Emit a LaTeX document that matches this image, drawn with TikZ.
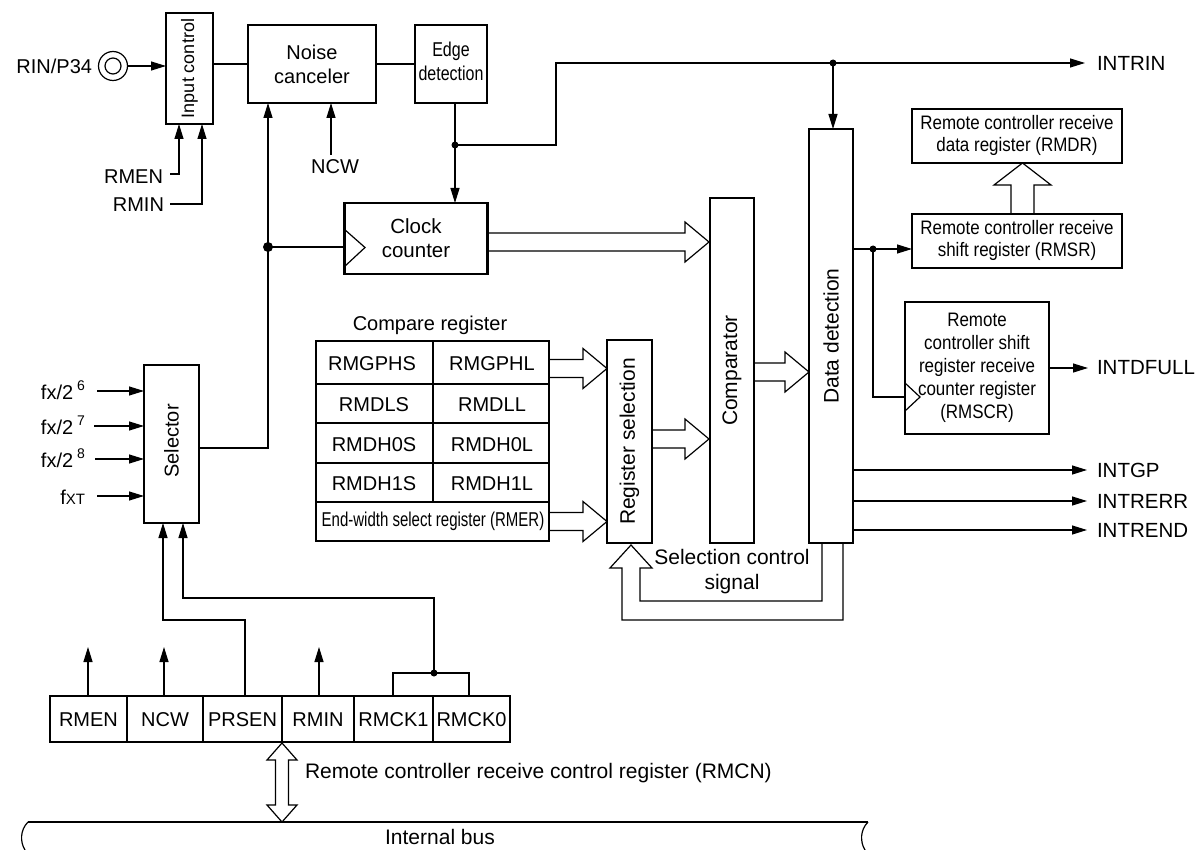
\documentclass[tikz,border=0pt]{standalone}
\usepackage{fontspec}
\setmainfont{Liberation Sans}
\usepackage{graphicx}
\usetikzlibrary{arrows.meta,calc}
\newcommand{\cnd}[2]{\scalebox{#1}[1]{\begin{tabular}{@{}c@{}}#2\end{tabular}}}
\newcommand{\fatR}[3]{\draw[fat] (#1,#3-9) -- (#2-24,#3-9) -- (#2-24,#3-20) -- (#2,#3) -- (#2-24,#3+20) -- (#2-24,#3+9) -- (#1,#3+9);}
\begin{document}
\begin{tikzpicture}[x=1pt,y=-1pt,
  every node/.style={font=\fontsize{20}{24}\selectfont, inner sep=0pt, outer sep=0pt},
  box/.style={draw, line width=2.2pt, inner sep=0pt, outer sep=0pt},
  ln/.style={line width=1.2pt},
  arr/.style={line width=1.2pt, -{Triangle[length=15pt,width=9pt]}},
  fat/.style={line width=1.2pt, line join=miter},
  dot/.style={circle, fill, inner sep=0pt, minimum size=7pt},
  thin/.style={line width=1.2pt}
]
\useasboundingbox (0,0) rectangle (1199,850);

% ---------- boxes ----------
\node[box, minimum width=47pt, minimum height=111pt] (inp) at (189.5,68.5) {};
\node[rotate=90, font=\fontsize{18}{20}\selectfont] at (inp) {Input control};
\node[box, minimum width=128pt, minimum height=78pt, align=center] (noise) at (312,64) {Noise\\canceler};
\node[box, minimum width=72pt, minimum height=78pt] (edge) at (451,64) {\cnd{0.8}{Edge\\detection}};
\node[box, minimum width=143pt, minimum height=71pt, align=center, font=\fontsize{20.5}{24}\selectfont] (clk) at (416,238.5) {Clock\\counter};
\node[box, minimum width=55pt, minimum height=158pt] (sel) at (171.5,444) {};
\node[rotate=90] at (171.5,441) {Selector};

\node (crt) at (430,325) {Compare register};
\node[box, minimum width=233pt, minimum height=200pt] (creg) at (432.5,441) {};
\foreach \yy in {384,423,463,502} \draw[thin] (316,\yy) -- (549,\yy);
\draw[thin] (433,341) -- (433,502);
\node at (372,364) {RMGPHS};
\node at (492,364) {RMGPHL};
\node at (374,405) {RMDLS};
\node at (492,405) {RMDLL};
\node at (374,445) {RMDH0S};
\node at (492,445) {RMDH0L};
\node at (374,484) {RMDH1S};
\node at (492,484) {RMDH1L};
\node at (433,522) {\cnd{0.75}{End-width select register (RMER)}};

\node[box, minimum width=45pt, minimum height=203pt] (regsel) at (629.5,441.5) {};
\node[rotate=90, font=\fontsize{21}{24}\selectfont] at (regsel) {Register selection};
\node[box, minimum width=44pt, minimum height=345pt] (comp) at (732,370.5) {};
\node[rotate=90, font=\fontsize{21}{24}\selectfont] at (comp) {Comparator};
\node[box, minimum width=44pt, minimum height=414pt] (dd) at (831,336) {};
\node[rotate=90, font=\fontsize{21}{24}\selectfont] at (dd) {Data detection};

\node[box, minimum width=210pt, minimum height=54pt, font=\fontsize{19.5}{22}\selectfont] (rmdr) at (1017,136) {\cnd{0.87}{Remote controller receive\\data register (RMDR)}};
\node[box, minimum width=210pt, minimum height=54pt, font=\fontsize{19.5}{21.5}\selectfont] (rmsr) at (1017,241) {\cnd{0.87}{Remote controller receive\\shift register (RMSR)}};
\node[box, minimum width=144pt, minimum height=132pt, font=\fontsize{19.5}{23}\selectfont] (rmscr) at (977,368) {\cnd{0.87}{Remote\\controller shift\\register receive\\counter register\\(RMSCR)}};

\node[box, minimum width=460pt, minimum height=46pt] (rmcn) at (280,719) {};
\foreach \xx in {127,203,282,354,433} \draw[thin] (\xx,696) -- (\xx,742);
\node at (88.5,720) {RMEN};
\node at (165,720) {NCW};
\node at (242.5,720) {PRSEN};
\node at (318,720) {RMIN};
\node at (393.5,720) {RMCK1};
\node at (471.5,720) {RMCK0};

% ---------- input pin ----------
\node[anchor=east] (rin) at (92,66) {RIN/P34};
\node[circle, draw, line width=1.2pt, minimum size=29pt] (pin) at (113,66) {};
\draw[line width=1.2pt] (pin.center) circle (8pt);
\draw[arr] (pin.east) -- (pin.east -| inp.west);
\draw[ln] (noise.west -| inp.east) -- (noise.west);
\draw[ln] (noise.east) -- (edge.west);

% RMEN / RMIN to input control
\node[anchor=east] (lrmen) at (163,177) {RMEN};
\node[anchor=east] (lrmin) at (164,205) {RMIN};
\draw[arr] (170,174) -| ([xshift=-10.5pt]inp.south);
\draw[arr] (170,204) -| ([xshift=12.5pt]inp.south);

% NCW
\node (lncw) at (335,167) {NCW};
\coordinate (ncwS) at (331,155);
\draw[arr] (ncwS) -- (ncwS |- noise.south);

% selector output to noise canceler and clock counter
\coordinate (j1) at (268,247);
\draw[arr] ([yshift=-4pt]sel.east) -| (noise.south -| j1);
\draw[ln] (j1) -- (j1 -| clk.west);
\node[dot, minimum size=10pt] at (j1) {};
\draw[ln] (344,229) -- (365,247.5) -- (344,267);

% edge detection
\coordinate (j2) at (455,145);
\draw[arr] (edge.south -| j2) -- (clk.north -| j2);
\draw[arr] (j2) -- (556,145) -- (556,63) -- (1085,63);
\coordinate (j3) at (833,63);
\draw[arr] (j3) -- (j3 |- dd.north);
\node[dot] at (j2) {};
\node[dot] at (j3) {};
\node[anchor=west, font=\fontsize{20.5}{24}\selectfont] (lintrin) at (1097,63) {INTRIN};

% fat arrows
\fatR{487}{709}{242}
\fatR{549}{607}{368.5}
\fatR{549}{607}{521.5}
\fatR{652}{709}{439}
\fatR{754}{809}{372}
\draw[fat] (1011,214) -- (1011,185) -- (994,185) -- (1022.5,163) -- (1051,185) -- (1034,185) -- (1034,214);

% selection control signal
\draw[fat] (843,543) -- (843,620) -- (622,620) -- (622,568) -- (610,568) -- (631,545) -- (652,568) -- (640,568) -- (640,601) -- (822,601) -- (822,543);
\node[align=center, font=\fontsize{21}{25}\selectfont] (lsel) at (732,572) {Selection control\\signal};

% data detection to shift registers
\coordinate (j4) at (873,249);
\draw[arr] (dd.east |- j4) -- (rmsr.west |- j4);
\draw[ln] (j4) |- (905,397);
\node[dot] at (j4) {};
\draw[ln] (905,383) -- (920,397) -- (905,411);
\draw[arr] (rmscr.east) -- (1088,368);
\node[anchor=west, font=\fontsize{20.5}{24}\selectfont] (lfull) at (1097,368) {INTDFULL};

% interrupt outputs
\draw[arr] (853,470) -- (1087,470);
\draw[arr] (853,501) -- (1087,501);
\draw[arr] (853,530) -- (1087,530);
\node[anchor=west, font=\fontsize{20.5}{24}\selectfont] (lgp) at (1097,470) {INTGP};
\node[anchor=west, font=\fontsize{20.5}{24}\selectfont] (lerr) at (1097,501) {INTRERR};
\node[anchor=west, font=\fontsize{20.5}{24}\selectfont] (lend) at (1097,530) {INTREND};

% selector inputs
\node[anchor=base east] (f6) at (85,399) {fx/2\hspace{4pt}\raisebox{9pt}{\fontsize{14}{14}\selectfont 6}};
\node[anchor=base east] (f7) at (85,434) {fx/2\hspace{4pt}\raisebox{9pt}{\fontsize{14}{14}\selectfont 7}};
\node[anchor=base east] (f8) at (85,467) {fx/2\hspace{4pt}\raisebox{9pt}{\fontsize{14}{14}\selectfont 8}};
\node[anchor=base east] (fxt) at (85,504) {f{\fontsize{15}{15}\selectfont XT}};
\draw[arr] (97,391) -- (97,391 -| sel.west);
\draw[arr] (94,426) -- (94,426 -| sel.west);
\draw[arr] (95,459) -- (95,459 -| sel.west);
\draw[arr] (97,496) -- (97,496 -| sel.west);

% control register connections
\draw[arr] (245,696) |- (163,620) -- (163,523);
\coordinate (j5) at (434,673);
\draw[ln] (393,696) |- (469,673) -- (469,696);
\draw[arr] (j5) |- (183,598) -- (183,523);
\node[dot] at (j5) {};
\draw[arr] (88,696) -- (88,647);
\draw[arr] (164,696) -- (164,647);
\draw[arr] (319,696) -- (319,647);

% bus
\draw[fat] (282,743) -- (297,760) -- (288.5,760) -- (288.5,805) -- (297,805) -- (282,822) -- (267,805) -- (275.5,805) -- (275.5,760) -- (267,760) -- cycle;
\node[anchor=west, font=\fontsize{21}{24}\selectfont] (lrmcn) at (305,773) {Remote controller receive control register (RMCN)};
\draw[line width=2pt] (28,822) -- (868,822);
\draw[ln] (28,822) .. controls (20,830) and (20,842) .. (25,850);
\draw[ln] (868,822) .. controls (860,830) and (860,842) .. (865,850);
\node[font=\fontsize{21}{24}\selectfont] (lbus) at (440,837) {Internal bus};
\end{tikzpicture}
\end{document}
